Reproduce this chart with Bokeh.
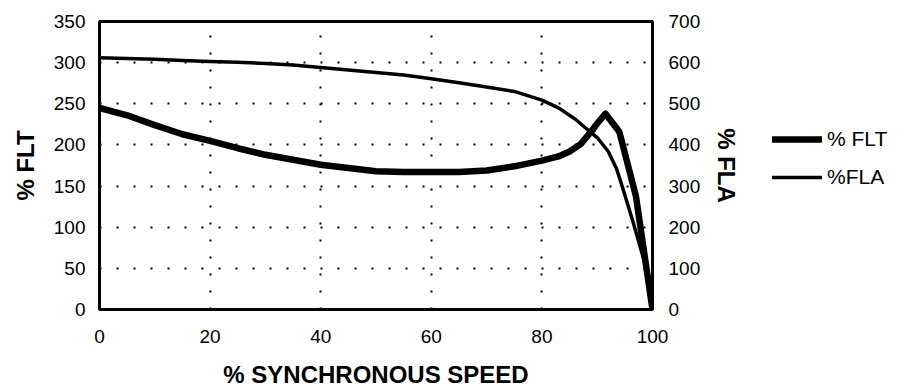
from bokeh.plotting import figure
from bokeh.layouts import row
from bokeh.models import Range1d, LinearAxis, FixedTicker, Legend, LegendItem
from bokeh.embed import file_html
from bokeh.resources import INLINE

# % synchronous speed vs % full-load torque (thick line, left axis)
speed_flt = [0, 5, 10, 15, 20, 25, 30, 35, 40, 45, 50, 55, 60, 65, 70, 75, 80,
             83, 85, 87, 89, 90, 91.5, 94, 97, 100]
flt = [245, 236, 224, 213, 205, 196, 188, 182, 176, 172, 168, 167, 167, 167, 169,
       174, 181, 186, 192, 201, 217, 226, 238, 216, 138, 0]

# % synchronous speed vs % full-load amps (thin line, right axis)
speed_fla = [0, 5, 10, 15, 20, 25, 30, 35, 40, 45, 50, 55, 60, 65, 70, 75, 80,
             83, 86, 88, 90, 92, 93.5, 94.5, 96.5, 99.3, 100]
fla = [612, 610, 608, 605, 603, 601, 598, 594, 588, 582, 576, 570, 561, 551, 541,
       530, 509, 490, 463, 440, 418, 384, 342, 300, 212, 80, 0]

series_labels = ["% FLT", "%FLA"]
x_ticks = [0, 20, 40, 60, 80, 100]
left_ticks = [0, 50, 100, 150, 200, 250, 300, 350]
right_ticks = [0, 100, 200, 300, 400, 500, 600, 700]
x_grid = [20, 40, 60, 80]
y_grid = [50, 100, 150, 200, 250, 300]

FONT = "Liberation Sans"

p = figure(width=760, height=392, output_backend="svg", toolbar_location=None,
           x_range=Range1d(0, 100), y_range=Range1d(0, 350),
           min_border_left=99, min_border_right=108, min_border_top=21,
           min_border_bottom=83)
p.extra_y_ranges = {"fla": Range1d(0, 700)}

p.outline_line_color = "black"
p.outline_line_width = 3
p.outline_line_alpha = 1.0
p.background_fill_color = "white"
p.border_fill_color = "white"

# grids
p.xgrid.ticker = FixedTicker(ticks=x_grid)
p.ygrid.ticker = FixedTicker(ticks=y_grid)
for g in (p.xgrid, p.ygrid):
    g.grid_line_color = "black"
    g.grid_line_width = 2
    g.grid_line_dash = "2 15"
    g.grid_line_dash_offset = 0

# axes
p.xaxis.ticker = FixedTicker(ticks=x_ticks)
p.yaxis.ticker = FixedTicker(ticks=left_ticks)
p.xaxis.axis_label = "% SYNCHRONOUS SPEED"
p.yaxis.axis_label = "% FLT"

right_axis = LinearAxis(y_range_name="fla", ticker=FixedTicker(ticks=right_ticks),
                        axis_label="% FLA")
p.add_layout(right_axis, "right")

for ax in (p.xaxis[0], p.yaxis[0], right_axis):
    ax.axis_line_color = None
    ax.major_tick_line_color = None
    ax.minor_tick_line_color = None
    ax.major_tick_in = 0
    ax.major_tick_out = 0
    ax.minor_tick_in = 0
    ax.minor_tick_out = 0
    ax.major_label_text_font = FONT
    ax.major_label_text_font_size = "19px"
    ax.major_label_text_color = "black"
    ax.axis_label_text_font = FONT
    ax.axis_label_text_font_size = "24px"
    ax.axis_label_text_font_style = "bold"
    ax.axis_label_text_color = "black"

p.xaxis.major_label_standoff = 20
p.xaxis.axis_label_standoff = 15
p.yaxis.major_label_standoff = 14
p.yaxis.axis_label_standoff = 12
right_axis.major_label_standoff = 16
right_axis.axis_label_standoff = 10

THICK = 6.5
THIN = 3.5
p.line(speed_flt, flt, line_width=THICK, line_color="black",
       line_join="round", line_cap="round")
p.line(speed_fla, fla, y_range_name="fla", line_width=THIN,
       line_color="black", line_join="round", line_cap="round")

# legend panel (its key lines reuse the series, kept outside the view)
lg = figure(width=143, height=392, output_backend="svg", toolbar_location=None,
            x_range=Range1d(1000, 1001), y_range=Range1d(1000, 1001),
            x_axis_location=None, y_axis_location=None,
            min_border_left=0, min_border_right=0, min_border_top=0,
            min_border_bottom=0)
lg.grid.visible = False
lg.outline_line_color = None
lg.background_fill_color = "white"
lg.border_fill_color = "white"
k1 = lg.line(speed_flt, flt, line_width=THICK, line_color="black", line_cap="round")
k2 = lg.line(speed_fla, fla, line_width=THIN, line_color="black", line_cap="round")

legend = Legend(items=[LegendItem(label=series_labels[0], renderers=[k1]),
                       LegendItem(label=series_labels[1], renderers=[k2])],
                location=(12, 120))
legend.glyph_width = 50
legend.glyph_height = 24
legend.label_height = 24
legend.label_standoff = 5
legend.spacing = 14
legend.padding = 0
legend.margin = 0
legend.border_line_color = None
legend.background_fill_alpha = 0
legend.label_text_font = FONT
legend.label_text_font_size = "21px"
legend.label_text_color = "black"
lg.add_layout(legend)

layout = row(p, lg)
open("out.html", "w").write(file_html(layout, INLINE))
